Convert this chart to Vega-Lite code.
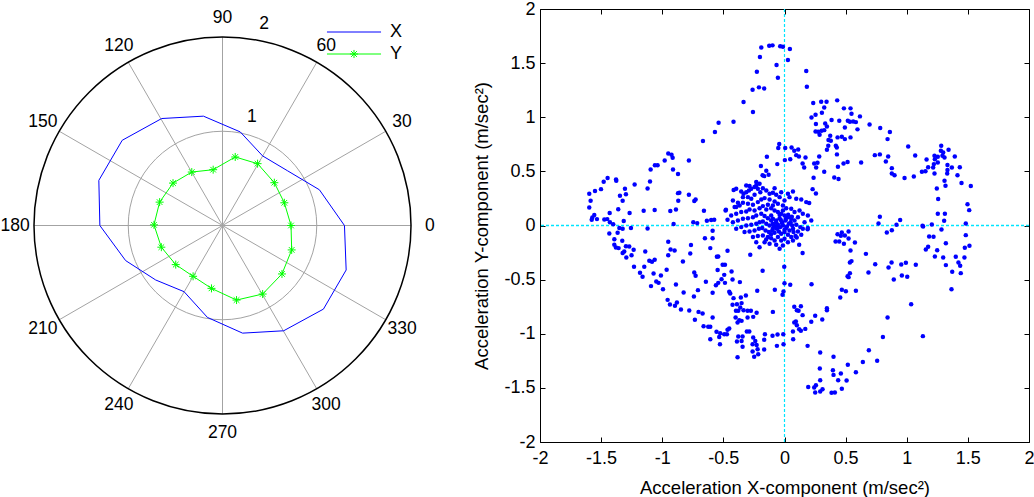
{
  "$schema": "https://vega.github.io/schema/vega-lite/v6.json",
  "padding": 0,
  "background": "white",
  "bounds": "flush",
  "spacing": 96,
  "config": {
    "view": {"stroke": null},
    "font": "Liberation Sans",
    "axis": {
      "grid": false,
      "domainColor": "#000000",
      "domainWidth": 1,
      "tickColor": "#000000",
      "tickSize": -5,
      "labelColor": "#000000",
      "titleColor": "#000000",
      "labelFont": "Liberation Sans",
      "titleFont": "Liberation Sans",
      "labelFontSize": 18,
      "titleFontSize": 18.5,
      "titleFontWeight": "normal",
      "labelFlush": false,
      "labelOverlap": false
    }
  },
  "datasets": {
    "spokes": [
      {"x": 2, "y": 0, "x2": -2, "y2": 0},
      {"x": 1.732, "y": 1, "x2": -1.732, "y2": -1},
      {"x": 1, "y": 1.732, "x2": -1, "y2": -1.732},
      {"x": 0, "y": 2, "x2": 0, "y2": -2},
      {"x": -1, "y": 1.732, "x2": 1, "y2": -1.732},
      {"x": -1.732, "y": 1, "x2": 1.732, "y2": -1}
    ],
    "rings": [
      {"r": 1, "ring": "grid"},
      {"r": 2, "ring": "frame"}
    ],
    "angles": [
      {"x": 2.2, "y": 0, "label": "0"},
      {"x": 1.905, "y": 1.1, "label": "30"},
      {"x": 1.1, "y": 1.905, "label": "60"},
      {"x": 0, "y": 2.2, "label": "90"},
      {"x": -1.1, "y": 1.905, "label": "120"},
      {"x": -1.905, "y": 1.1, "label": "150"},
      {"x": -2.2, "y": 0, "label": "180"},
      {"x": -1.905, "y": -1.1, "label": "210"},
      {"x": -1.1, "y": -1.905, "label": "240"},
      {"x": 0, "y": -2.2, "label": "270"},
      {"x": 1.1, "y": -1.905, "label": "300"},
      {"x": 1.905, "y": -1.1, "label": "330"}
    ],
    "rlabels": [
      {"x": 0.311, "y": 1.149, "label": "1"},
      {"x": 0.441, "y": 2.14, "label": "2"}
    ],
    "curves": [
      {"series": "X", "i": 0, "x": 1.294, "y": 0},
      {"series": "X", "i": 1, "x": 1.028, "y": 0.379},
      {"series": "X", "i": 2, "x": 0.691, "y": 0.58},
      {"series": "X", "i": 3, "x": 0.426, "y": 0.738},
      {"series": "X", "i": 4, "x": 0.188, "y": 0.993},
      {"series": "X", "i": 5, "x": -0.202, "y": 1.16},
      {"series": "X", "i": 6, "x": -0.645, "y": 1.135},
      {"series": "X", "i": 7, "x": -1.064, "y": 0.904},
      {"series": "X", "i": 8, "x": -1.312, "y": 0.479},
      {"series": "X", "i": 9, "x": -1.301, "y": 0},
      {"series": "X", "i": 10, "x": -1.028, "y": -0.372},
      {"series": "X", "i": 11, "x": -0.709, "y": -0.578},
      {"series": "X", "i": 12, "x": -0.408, "y": -0.702},
      {"series": "X", "i": 13, "x": -0.16, "y": -0.975},
      {"series": "X", "i": 14, "x": 0.213, "y": -1.142},
      {"series": "X", "i": 15, "x": 0.649, "y": -1.117},
      {"series": "X", "i": 16, "x": 1.071, "y": -0.887},
      {"series": "X", "i": 17, "x": 1.312, "y": -0.472},
      {"series": "X", "i": 18, "x": 1.294, "y": 0},
      {"series": "Y", "i": 0, "x": 0.727, "y": 0},
      {"series": "Y", "i": 1, "x": 0.656, "y": 0.241},
      {"series": "Y", "i": 2, "x": 0.55, "y": 0.454},
      {"series": "Y", "i": 3, "x": 0.372, "y": 0.656},
      {"series": "Y", "i": 4, "x": 0.135, "y": 0.727},
      {"series": "Y", "i": 5, "x": -0.099, "y": 0.592},
      {"series": "Y", "i": 6, "x": -0.326, "y": 0.567},
      {"series": "Y", "i": 7, "x": -0.525, "y": 0.45},
      {"series": "Y", "i": 8, "x": -0.667, "y": 0.248},
      {"series": "Y", "i": 9, "x": -0.727, "y": 0.007},
      {"series": "Y", "i": 10, "x": -0.649, "y": -0.23},
      {"series": "Y", "i": 11, "x": -0.496, "y": -0.415},
      {"series": "Y", "i": 12, "x": -0.312, "y": -0.539},
      {"series": "Y", "i": 13, "x": -0.117, "y": -0.667},
      {"series": "Y", "i": 14, "x": 0.149, "y": -0.791},
      {"series": "Y", "i": 15, "x": 0.426, "y": -0.727},
      {"series": "Y", "i": 16, "x": 0.631, "y": -0.514},
      {"series": "Y", "i": 17, "x": 0.734, "y": -0.259},
      {"series": "Y", "i": 18, "x": 0.727, "y": 0}
    ],
    "origin": [{"v": 0}],
    "accel": [
      {"x": -0.667, "y": 0.78}, {"x": -0.951, "y": 0.665}, {"x": -0.924, "y": 0.653}, {"x": -0.915, "y": 0.626},
      {"x": -0.98, "y": 0.601}, {"x": -0.782, "y": 0.601}, {"x": -1.06, "y": 0.557}, {"x": -1.038, "y": 0.557},
      {"x": -1.095, "y": 0.518}, {"x": -0.912, "y": 0.518}, {"x": -0.871, "y": 0.475}, {"x": -1.447, "y": 0.438},
      {"x": -1.479, "y": 0.404}, {"x": -1.378, "y": 0.425}, {"x": -1.376, "y": 0.413}, {"x": -1.1, "y": 0.407},
      {"x": -1.226, "y": 0.379}, {"x": -1.12, "y": 0.342}, {"x": -1.305, "y": 0.339}, {"x": -1.501, "y": 0.336},
      {"x": -1.55, "y": 0.318}, {"x": -1.597, "y": 0.293}, {"x": -0.871, "y": 0.299}, {"x": -0.86, "y": 0.302},
      {"x": -0.782, "y": 0.284}, {"x": -1.346, "y": 0.275}, {"x": -1.297, "y": 0.288}, {"x": -1.586, "y": 0.228},
      {"x": -1.324, "y": 0.228}, {"x": -0.727, "y": 0.241}, {"x": -0.738, "y": 0.226}, {"x": -0.869, "y": 0.228},
      {"x": -1.597, "y": 0.166}, {"x": -1.36, "y": 0.151}, {"x": -1.267, "y": 0.115}, {"x": -1.152, "y": 0.137},
      {"x": -1.062, "y": 0.143}, {"x": -0.934, "y": 0.133}, {"x": -0.888, "y": 0.148}, {"x": -1.43, "y": 0.115},
      {"x": -1.556, "y": 0.096}, {"x": -1.572, "y": 0.074}, {"x": -1.577, "y": 0.053}, {"x": -1.534, "y": 0.059},
      {"x": -1.474, "y": 0.056}, {"x": -1.45, "y": 0.059}, {"x": -1.428, "y": 0.031}, {"x": -1.401, "y": 0.012},
      {"x": -1.315, "y": 0.041}, {"x": -0.907, "y": 0.013}, {"x": -0.746, "y": 0.031}, {"x": -0.714, "y": 0.022},
      {"x": -0.19, "y": 1.645}, {"x": -0.125, "y": 1.661}, {"x": -0.098, "y": 1.664}, {"x": -0.035, "y": 1.655},
      {"x": -0.013, "y": 1.652}, {"x": 0.044, "y": 1.63}, {"x": -0.201, "y": 1.556}, {"x": 0.028, "y": 1.528},
      {"x": -0.065, "y": 1.482}, {"x": -0.226, "y": 1.421}, {"x": 0.178, "y": 1.427}, {"x": -0.054, "y": 1.365},
      {"x": -0.261, "y": 1.254}, {"x": -0.209, "y": 1.276}, {"x": -0.166, "y": 1.266}, {"x": 0.183, "y": 1.282},
      {"x": -0.335, "y": 1.14}, {"x": -0.258, "y": 1.048}, {"x": -0.539, "y": 0.949}, {"x": -0.417, "y": 0.958},
      {"x": -0.569, "y": 0.863}, {"x": 0.235, "y": 1.131}, {"x": 0.3, "y": 1.143}, {"x": 0.344, "y": 1.143},
      {"x": 0.325, "y": 1.091}, {"x": 0.431, "y": 1.156}, {"x": 0.306, "y": 1.042}, {"x": 0.254, "y": 1.023},
      {"x": 0.221, "y": 0.998}, {"x": 0.257, "y": 0.937}, {"x": 0.333, "y": 0.943}, {"x": 0.385, "y": 0.974},
      {"x": 0.448, "y": 0.968}, {"x": 0.347, "y": 0.915}, {"x": 0.325, "y": 0.881}, {"x": 0.303, "y": 0.875},
      {"x": 0.276, "y": 0.866}, {"x": 0.254, "y": 0.869}, {"x": 0.287, "y": 0.838}, {"x": 0.374, "y": 0.829},
      {"x": 0.36, "y": 0.789}, {"x": 0.379, "y": 0.783}, {"x": 0.358, "y": 0.737}, {"x": 0.347, "y": 0.7},
      {"x": 0.428, "y": 0.721}, {"x": 0.434, "y": 0.814}, {"x": -0.043, "y": 0.752}, {"x": -0.051, "y": 0.715},
      {"x": 0.006, "y": 0.715}, {"x": 0.058, "y": 0.721}, {"x": 0.08, "y": 0.69}, {"x": 0.112, "y": 0.703},
      {"x": 0.096, "y": 0.65}, {"x": 0.118, "y": 0.638}, {"x": 0.047, "y": 0.613}, {"x": 0.003, "y": 0.604},
      {"x": 0.172, "y": 0.629}, {"x": 0.284, "y": 0.638}, {"x": 0.27, "y": 0.58}, {"x": 0.243, "y": 0.573},
      {"x": 0.148, "y": 0.573}, {"x": 0.161, "y": 0.536}, {"x": -0.059, "y": 0.567}, {"x": -0.144, "y": 0.635},
      {"x": -0.193, "y": 0.549}, {"x": -0.149, "y": 0.506}, {"x": 0.259, "y": 0.536}, {"x": 0.325, "y": 0.496},
      {"x": -0.179, "y": 0.465}, {"x": -0.166, "y": 0.456}, {"x": -0.13, "y": 0.469}, {"x": 0.238, "y": 0.441},
      {"x": 0.437, "y": 0.542}, {"x": 0.407, "y": 0.444}, {"x": 0.442, "y": 0.429}, {"x": 0.23, "y": 0.336},
      {"x": 0.257, "y": 0.296}, {"x": 0.202, "y": 0.207},
      {"x": 0.486, "y": 1.082}, {"x": 0.54, "y": 1.082}, {"x": 0.548, "y": 1.032}, {"x": 0.617, "y": 1.008},
      {"x": 0.518, "y": 0.968}, {"x": 0.535, "y": 0.958}, {"x": 0.562, "y": 0.961}, {"x": 0.584, "y": 0.955},
      {"x": 0.494, "y": 0.906}, {"x": 0.597, "y": 0.888}, {"x": 0.696, "y": 0.934}, {"x": 0.783, "y": 0.9},
      {"x": 0.862, "y": 0.863}, {"x": 0.469, "y": 0.82}, {"x": 0.494, "y": 0.798}, {"x": 0.54, "y": 0.814},
      {"x": 0.843, "y": 0.798}, {"x": 0.42, "y": 0.737}, {"x": 1.012, "y": 0.73}, {"x": 0.429, "y": 0.657},
      {"x": 0.739, "y": 0.65}, {"x": 0.78, "y": 0.657}, {"x": 0.848, "y": 0.638}, {"x": 1.069, "y": 0.647},
      {"x": 0.829, "y": 0.592}, {"x": 0.627, "y": 0.583}, {"x": 0.516, "y": 0.586}, {"x": 0.483, "y": 0.573},
      {"x": 0.878, "y": 0.53}, {"x": 0.878, "y": 0.481}, {"x": 0.9, "y": 0.465}, {"x": 0.982, "y": 0.438},
      {"x": 1.058, "y": 0.453}, {"x": 1.162, "y": 0.61}, {"x": 1.175, "y": 0.539}, {"x": 1.124, "y": 0.496},
      {"x": 1.153, "y": 0.502}, {"x": 1.227, "y": 0.644}, {"x": 1.254, "y": 0.635}, {"x": 1.282, "y": 0.737},
      {"x": 1.279, "y": 0.69}, {"x": 1.298, "y": 0.675}, {"x": 1.292, "y": 0.644}, {"x": 1.309, "y": 0.629},
      {"x": 1.342, "y": 0.7}, {"x": 1.393, "y": 0.638}, {"x": 1.434, "y": 0.539}, {"x": 1.369, "y": 0.536},
      {"x": 1.333, "y": 0.558}, {"x": 1.333, "y": 0.512}, {"x": 1.331, "y": 0.481}, {"x": 1.415, "y": 0.465},
      {"x": 1.448, "y": 0.392}, {"x": 1.524, "y": 0.364}, {"x": 1.23, "y": 0.613}, {"x": 1.222, "y": 0.567},
      {"x": 1.216, "y": 0.536}, {"x": 1.227, "y": 0.481}, {"x": 1.254, "y": 0.583}, {"x": 1.309, "y": 0.413},
      {"x": 1.317, "y": 0.367}, {"x": 1.246, "y": 0.342}, {"x": 1.257, "y": 0.244}, {"x": 1.497, "y": 0.197},
      {"x": 1.511, "y": 0.142}, {"x": 1.254, "y": 0.108}, {"x": 1.312, "y": 0.108}, {"x": 1.306, "y": 0.043},
      {"x": 1.483, "y": 0.019}, {"x": 0.78, "y": 0.08}, {"x": 0.769, "y": 0.019}, {"x": 0.946, "y": 0.05},
      {"x": 0.916, "y": 0.006}, {"x": 1.129, "y": -0.003}, {"x": 1.205, "y": 0.009},
      {"x": -1.351, "y": -0.024}, {"x": -1.324, "y": -0.03}, {"x": -1.256, "y": -0.024}, {"x": -1.12, "y": -0.027},
      {"x": -1.433, "y": -0.074}, {"x": -1.365, "y": -0.067}, {"x": -1.392, "y": -0.126}, {"x": -1.327, "y": -0.141},
      {"x": -1.392, "y": -0.178}, {"x": -1.379, "y": -0.203}, {"x": -1.357, "y": -0.209}, {"x": -1.297, "y": -0.191},
      {"x": -1.27, "y": -0.194}, {"x": -1.234, "y": -0.225}, {"x": -1.311, "y": -0.24}, {"x": -1.324, "y": -0.255},
      {"x": -1.251, "y": -0.274}, {"x": -1.294, "y": -0.295}, {"x": -1.139, "y": -0.24}, {"x": -1.106, "y": -0.326},
      {"x": -1.084, "y": -0.335}, {"x": -1.062, "y": -0.317}, {"x": -1.231, "y": -0.382}, {"x": -1.147, "y": -0.382},
      {"x": -1.182, "y": -0.437}, {"x": -1.161, "y": -0.474}, {"x": -1.071, "y": -0.443}, {"x": -1.011, "y": -0.462},
      {"x": -0.964, "y": -0.409}, {"x": -1.049, "y": -0.517}, {"x": -1.03, "y": -0.53}, {"x": -1.092, "y": -0.56},
      {"x": -0.994, "y": -0.588}, {"x": -0.951, "y": -0.151}, {"x": -0.932, "y": -0.222}, {"x": -0.899, "y": -0.231},
      {"x": -0.951, "y": -0.274}, {"x": -0.765, "y": -0.181}, {"x": -0.771, "y": -0.258}, {"x": -0.831, "y": -0.332},
      {"x": -0.738, "y": -0.434}, {"x": -0.727, "y": -0.465}, {"x": -0.888, "y": -0.545}, {"x": -0.825, "y": -0.619},
      {"x": -0.708, "y": -0.597}, {"x": -0.741, "y": -0.656}, {"x": -0.956, "y": -0.687}, {"x": -0.937, "y": -0.73},
      {"x": -0.896, "y": -0.742}, {"x": -0.88, "y": -0.711}, {"x": -0.847, "y": -0.776}, {"x": -0.779, "y": -0.785},
      {"x": -0.703, "y": -0.798}, {"x": -0.67, "y": -0.813}, {"x": -0.733, "y": -0.871}, {"x": -0.662, "y": -0.93},
      {"x": -0.651, "y": -0.117}, {"x": -0.643, "y": -0.52},
      {"x": -0.588, "y": -0.049}, {"x": -0.588, "y": -0.117}, {"x": -0.607, "y": -0.209}, {"x": -0.553, "y": -0.289},
      {"x": -0.542, "y": -0.286}, {"x": -0.466, "y": -0.234}, {"x": -0.506, "y": -0.363}, {"x": -0.487, "y": -0.363},
      {"x": -0.547, "y": -0.412}, {"x": -0.493, "y": -0.456}, {"x": -0.433, "y": -0.425}, {"x": -0.515, "y": -0.496},
      {"x": -0.561, "y": -0.551}, {"x": -0.542, "y": -0.53}, {"x": -0.487, "y": -0.53}, {"x": -0.425, "y": -0.499},
      {"x": -0.365, "y": -0.523}, {"x": -0.588, "y": -0.622}, {"x": -0.452, "y": -0.613}, {"x": -0.444, "y": -0.628},
      {"x": -0.417, "y": -0.671}, {"x": -0.357, "y": -0.665}, {"x": -0.316, "y": -0.647}, {"x": -0.389, "y": -0.727},
      {"x": -0.351, "y": -0.717}, {"x": -0.425, "y": -0.733}, {"x": -0.362, "y": -0.757}, {"x": -0.397, "y": -0.788},
      {"x": -0.378, "y": -0.788}, {"x": -0.335, "y": -0.782}, {"x": -0.302, "y": -0.788}, {"x": -0.275, "y": -0.788},
      {"x": -0.228, "y": -0.807}, {"x": -0.588, "y": -0.85}, {"x": -0.4, "y": -0.85}, {"x": -0.37, "y": -0.875},
      {"x": -0.351, "y": -0.881}, {"x": -0.384, "y": -0.896}, {"x": -0.302, "y": -0.85}, {"x": -0.256, "y": -0.844},
      {"x": -0.624, "y": -0.936}, {"x": -0.607, "y": -0.936}, {"x": -0.452, "y": -0.952}, {"x": -0.466, "y": -0.964},
      {"x": -0.556, "y": -0.982}, {"x": -0.526, "y": -0.995}, {"x": -0.493, "y": -1.004}, {"x": -0.471, "y": -1.004},
      {"x": -0.308, "y": -0.979}, {"x": -0.288, "y": -0.979}, {"x": -0.16, "y": -1.004}, {"x": -0.534, "y": -1.029},
      {"x": -0.607, "y": -1.05}, {"x": -0.378, "y": -1.026}, {"x": -0.343, "y": -1.026}, {"x": -0.389, "y": -1.072},
      {"x": -0.351, "y": -1.066}, {"x": -0.256, "y": -1.035}, {"x": -0.239, "y": -1.066}, {"x": -0.166, "y": -1.056},
      {"x": -0.098, "y": -1.019}, {"x": -0.057, "y": -1.007}, {"x": -0.01, "y": -1.004}, {"x": -0.528, "y": -1.096},
      {"x": -0.343, "y": -1.121}, {"x": -0.261, "y": -1.096}, {"x": -0.228, "y": -1.103}, {"x": -0.22, "y": -1.143},
      {"x": -0.261, "y": -1.164}, {"x": -0.215, "y": -1.189}, {"x": -0.166, "y": -1.146}, {"x": -0.062, "y": -1.112},
      {"x": -0.008, "y": -1.096}, {"x": -0.384, "y": -1.217}, {"x": -0.248, "y": -1.213}, {"x": -0.28, "y": -0.271},
      {"x": -0.179, "y": -0.419}, {"x": -0.002, "y": -0.382}, {"x": 0.0, "y": -0.533}, {"x": 0.047, "y": -0.548},
      {"x": 0.221, "y": -0.542}, {"x": -0.223, "y": -0.603}, {"x": -0.079, "y": -0.594}, {"x": -0.008, "y": -0.61},
      {"x": -0.016, "y": -0.64}, {"x": -0.095, "y": -0.798}, {"x": 0.08, "y": -0.751}, {"x": 0.101, "y": -0.782},
      {"x": 0.134, "y": -0.745}, {"x": 0.115, "y": -0.788}, {"x": 0.148, "y": -0.828}, {"x": 0.251, "y": -0.834},
      {"x": 0.309, "y": -0.868}, {"x": 0.347, "y": -0.764}, {"x": 0.347, "y": -0.782}, {"x": 0.08, "y": -0.896},
      {"x": 0.093, "y": -0.887}, {"x": 0.101, "y": -0.921}, {"x": 0.12, "y": -0.958}, {"x": 0.134, "y": -0.973},
      {"x": 0.17, "y": -0.955}, {"x": 0.219, "y": -0.89}, {"x": 0.069, "y": -0.979}, {"x": 0.071, "y": -1.05},
      {"x": 0.189, "y": -1.112}, {"x": 0.292, "y": -1.173}, {"x": 0.401, "y": -1.213}, {"x": 0.289, "y": -1.321},
      {"x": 0.396, "y": -1.337}, {"x": 0.401, "y": -1.38}, {"x": 0.292, "y": -1.429}, {"x": 0.257, "y": -1.475},
      {"x": 0.243, "y": -1.497}, {"x": 0.194, "y": -1.491}, {"x": 0.251, "y": -1.543}, {"x": 0.292, "y": -1.534},
      {"x": 0.311, "y": -1.512}, {"x": 0.385, "y": -1.546}, {"x": 0.412, "y": -1.543}, {"x": 0.439, "y": -1.429},
      {"x": 0.456, "y": -0.665}, {"x": 0.434, "y": -0.08}, {"x": 0.461, "y": -0.095}, {"x": 0.418, "y": -0.147},
      {"x": 0.448, "y": -0.147},
      {"x": 1.134, "y": -0.009}, {"x": 1.284, "y": -0.037}, {"x": 0.837, "y": -0.064}, {"x": 0.878, "y": -0.043},
      {"x": 0.469, "y": -0.064}, {"x": 0.494, "y": -0.092}, {"x": 0.524, "y": -0.055}, {"x": 0.524, "y": -0.12},
      {"x": 0.486, "y": -0.169}, {"x": 0.576, "y": -0.157}, {"x": 0.54, "y": -0.231}, {"x": 0.666, "y": -0.262},
      {"x": 0.535, "y": -0.342}, {"x": 0.548, "y": -0.329}, {"x": 0.742, "y": -0.357}, {"x": 0.876, "y": -0.342},
      {"x": 0.955, "y": -0.36}, {"x": 0.993, "y": -0.345}, {"x": 1.074, "y": -0.363}, {"x": 0.851, "y": -0.388},
      {"x": 0.687, "y": -0.434}, {"x": 0.535, "y": -0.44}, {"x": 0.516, "y": -0.468}, {"x": 0.524, "y": -0.477},
      {"x": 0.894, "y": -0.499}, {"x": 0.96, "y": -0.462}, {"x": 1.004, "y": -0.474}, {"x": 0.469, "y": -0.594},
      {"x": 0.502, "y": -0.607}, {"x": 0.584, "y": -0.603}, {"x": 1.036, "y": -0.727}, {"x": 0.843, "y": -0.85},
      {"x": 0.805, "y": -1.029}, {"x": 1.132, "y": -1.022}, {"x": 0.69, "y": -1.152}, {"x": 0.758, "y": -1.25},
      {"x": 0.641, "y": -1.26}, {"x": 0.518, "y": -1.287}, {"x": 0.584, "y": -1.355}, {"x": 0.461, "y": -1.367},
      {"x": 0.508, "y": -1.432}, {"x": 0.469, "y": -1.509}, {"x": 1.183, "y": -0.101}, {"x": 1.219, "y": -0.104},
      {"x": 1.175, "y": -0.197}, {"x": 1.156, "y": -0.222}, {"x": 1.249, "y": -0.228}, {"x": 1.32, "y": -0.163},
      {"x": 1.23, "y": -0.286}, {"x": 1.298, "y": -0.295}, {"x": 1.32, "y": -0.366}, {"x": 1.401, "y": -0.289},
      {"x": 1.423, "y": -0.342}, {"x": 1.437, "y": -0.372}, {"x": 1.472, "y": -0.295}, {"x": 1.475, "y": -0.206},
      {"x": 1.513, "y": -0.188}, {"x": 1.483, "y": -0.089}, {"x": 1.372, "y": -0.428}, {"x": 1.442, "y": -0.44},
      {"x": 1.366, "y": -0.588},
      {"x": -0.395, "y": 0.339}, {"x": -0.354, "y": 0.315}, {"x": -0.335, "y": 0.293}, {"x": -0.313, "y": 0.308},
      {"x": -0.291, "y": 0.324}, {"x": -0.272, "y": 0.339}, {"x": -0.245, "y": 0.355}, {"x": -0.231, "y": 0.37},
      {"x": -0.218, "y": 0.339}, {"x": -0.198, "y": 0.308}, {"x": -0.177, "y": 0.345}, {"x": -0.149, "y": 0.324},
      {"x": -0.122, "y": 0.293}, {"x": -0.095, "y": 0.302}, {"x": -0.068, "y": 0.284}, {"x": -0.04, "y": 0.262},
      {"x": -0.34, "y": 0.262}, {"x": -0.299, "y": 0.262}, {"x": -0.272, "y": 0.247}, {"x": -0.245, "y": 0.284},
      {"x": -0.313, "y": 0.37}, {"x": -0.286, "y": 0.364}, {"x": -0.231, "y": 0.401}, {"x": -0.204, "y": 0.385},
      {"x": -0.081, "y": 0.345}, {"x": -0.027, "y": 0.308}, {"x": 0.028, "y": 0.293}, {"x": 0.069, "y": 0.315},
      {"x": 0.096, "y": 0.247}, {"x": 0.137, "y": 0.241}, {"x": 0.178, "y": 0.216}, {"x": 0.041, "y": 0.262},
      {"x": 0.0, "y": 0.231}, {"x": -0.422, "y": 0.231}, {"x": -0.381, "y": 0.21}, {"x": -0.408, "y": 0.17},
      {"x": -0.367, "y": 0.185}, {"x": -0.34, "y": 0.21}, {"x": -0.299, "y": 0.201}, {"x": -0.258, "y": 0.191},
      {"x": -0.218, "y": 0.216}, {"x": -0.19, "y": 0.241}, {"x": -0.163, "y": 0.253}, {"x": -0.122, "y": 0.241},
      {"x": -0.081, "y": 0.222}, {"x": -0.054, "y": 0.201}, {"x": -0.013, "y": 0.185}, {"x": 0.014, "y": 0.16},
      {"x": 0.055, "y": 0.154}, {"x": 0.082, "y": 0.124}, {"x": 0.123, "y": 0.139}, {"x": 0.15, "y": 0.108},
      {"x": 0.191, "y": 0.093}, {"x": 0.219, "y": 0.047}, {"x": -0.482, "y": 0.139}, {"x": -0.436, "y": 0.093},
      {"x": -0.395, "y": 0.108}, {"x": -0.354, "y": 0.124}, {"x": -0.313, "y": 0.13}, {"x": -0.286, "y": 0.148},
      {"x": -0.245, "y": 0.139}, {"x": -0.204, "y": 0.16}, {"x": -0.177, "y": 0.179}, {"x": -0.149, "y": 0.148},
      {"x": -0.109, "y": 0.16}, {"x": -0.081, "y": 0.139}, {"x": -0.054, "y": 0.124}, {"x": -0.027, "y": 0.108},
      {"x": 0.0, "y": 0.093}, {"x": 0.028, "y": 0.077}, {"x": 0.055, "y": 0.062}, {"x": 0.082, "y": 0.047},
      {"x": 0.11, "y": 0.077}, {"x": 0.164, "y": 0.031}, {"x": -0.422, "y": 0.031}, {"x": -0.381, "y": 0.047},
      {"x": -0.34, "y": 0.062}, {"x": -0.299, "y": 0.068}, {"x": -0.258, "y": 0.077}, {"x": -0.231, "y": 0.093},
      {"x": -0.19, "y": 0.108}, {"x": -0.163, "y": 0.087}, {"x": -0.136, "y": 0.068}, {"x": -0.109, "y": 0.093},
      {"x": -0.095, "y": 0.062}, {"x": -0.068, "y": 0.047}, {"x": -0.04, "y": 0.068}, {"x": -0.019, "y": 0.031},
      {"x": 0.009, "y": 0.047}, {"x": 0.036, "y": 0.016}, {"x": 0.063, "y": 0.0}, {"x": 0.096, "y": 0.006},
      {"x": 0.129, "y": -0.015}, {"x": 0.15, "y": -0.03}, {"x": 0.191, "y": -0.024}, {"x": -0.395, "y": -0.03},
      {"x": -0.354, "y": -0.015}, {"x": -0.313, "y": 0.0}, {"x": -0.272, "y": 0.006}, {"x": -0.231, "y": 0.016},
      {"x": -0.204, "y": 0.031}, {"x": -0.177, "y": 0.037}, {"x": -0.149, "y": 0.016}, {"x": -0.122, "y": 0.0},
      {"x": -0.095, "y": 0.016}, {"x": -0.073, "y": -0.006}, {"x": -0.054, "y": 0.006}, {"x": -0.035, "y": -0.015},
      {"x": -0.013, "y": 0.0}, {"x": 0.014, "y": -0.024}, {"x": 0.041, "y": -0.046}, {"x": 0.074, "y": -0.061},
      {"x": 0.11, "y": -0.055}, {"x": -0.327, "y": -0.061}, {"x": -0.286, "y": -0.055}, {"x": -0.245, "y": -0.046},
      {"x": -0.209, "y": -0.03}, {"x": -0.182, "y": -0.024}, {"x": -0.155, "y": -0.046}, {"x": -0.128, "y": -0.061},
      {"x": -0.1, "y": -0.046}, {"x": -0.081, "y": -0.067}, {"x": -0.062, "y": -0.03}, {"x": -0.046, "y": -0.055},
      {"x": -0.027, "y": -0.077}, {"x": 0.0, "y": -0.061}, {"x": 0.028, "y": -0.086}, {"x": 0.055, "y": -0.107},
      {"x": 0.09, "y": -0.098}, {"x": 0.137, "y": -0.086}, {"x": -0.258, "y": -0.107}, {"x": -0.218, "y": -0.098},
      {"x": -0.177, "y": -0.092}, {"x": -0.136, "y": -0.107}, {"x": -0.109, "y": -0.117}, {"x": -0.081, "y": -0.138},
      {"x": -0.054, "y": -0.107}, {"x": -0.027, "y": -0.138}, {"x": 0.0, "y": -0.123}, {"x": 0.028, "y": -0.154},
      {"x": 0.069, "y": -0.138}, {"x": -0.231, "y": -0.154}, {"x": -0.163, "y": -0.154}, {"x": -0.122, "y": -0.169},
      {"x": -0.068, "y": -0.178}, {"x": -0.013, "y": -0.184}, {"x": -0.204, "y": -0.2}, {"x": -0.04, "y": -0.215},
      {"x": -0.095, "y": -0.03}, {"x": -0.068, "y": 0.031}, {"x": -0.109, "y": 0.047}, {"x": -0.04, "y": 0.099},
      {"x": -0.013, "y": 0.139}, {"x": -0.095, "y": 0.185}, {"x": -0.136, "y": 0.191},
      {"x": -0.02, "y": 0.02}, {"x": 0.02, "y": -0.01}, {"x": -0.06, "y": -0.02}, {"x": 0.05, "y": 0.03},
      {"x": 0.0, "y": -0.04}, {"x": -0.03, "y": 0.05}, {"x": 0.07, "y": -0.03}, {"x": -0.09, "y": 0.0},
      {"x": 0.03, "y": 0.1}, {"x": -0.11, "y": -0.08}, {"x": 0.1, "y": -0.11}, {"x": 0.06, "y": 0.08},
      {"x": -0.15, "y": -0.13}, {"x": 0.01, "y": 0.06},
      {"x": 0.148, "y": -0.255}, {"x": 0.12, "y": -0.178}, {"x": 0.189, "y": -0.034}, {"x": -0.635, "y": 0.043},
      {"x": -0.575, "y": 0.053}, {"x": -0.479, "y": 0.145}, {"x": -0.466, "y": 0.053}, {"x": -0.659, "y": 0.136},
      {"x": -0.6, "y": 0.05}, {"x": -0.416, "y": 0.327}, {"x": -0.395, "y": 0.17}
    ]
  },
  "hconcat": [
    {
      "width": 443,
      "height": 433,
      "layer": [
        {
          "data": {"name": "spokes"},
          "mark": {"type": "rule", "color": "#a3a3a3", "strokeWidth": 1},
          "encoding": {
            "x": {"field": "x", "type": "quantitative", "scale": {"domain": [-2.35, 2.35], "nice": false, "zero": false}, "axis": null},
            "y": {"field": "y", "type": "quantitative", "scale": {"domain": [-2.297, 2.297], "nice": false, "zero": false}, "axis": null},
            "x2": {"field": "x2"},
            "y2": {"field": "y2"}
          }
        },
        {
          "data": {"name": "rings"},
          "transform": [{"filter": "datum.ring == 'grid'"}],
          "mark": {"type": "arc", "filled": false, "stroke": "#a3a3a3", "strokeWidth": 1, "theta": 0, "theta2": 6.2832},
          "encoding": {
            "radius": {"field": "r", "type": "quantitative", "scale": {"type": "linear", "domain": [0, 2.35], "range": [0, 221.5], "zero": true, "nice": false}}
          }
        },
        {
          "data": {"name": "rings"},
          "transform": [{"filter": "datum.ring == 'frame'"}],
          "mark": {"type": "arc", "filled": false, "stroke": "#000000", "strokeWidth": 1.5, "theta": 0, "theta2": 6.2832},
          "encoding": {
            "radius": {"field": "r", "type": "quantitative", "scale": {"type": "linear", "domain": [0, 2.35], "range": [0, 221.5], "zero": true, "nice": false}}
          }
        },
        {
          "data": {"name": "curves"},
          "mark": {"type": "line", "strokeWidth": 1},
          "encoding": {
            "x": {"field": "x", "type": "quantitative", "scale": {"domain": [-2.35, 2.35], "nice": false, "zero": false}, "axis": null},
            "y": {"field": "y", "type": "quantitative", "scale": {"domain": [-2.297, 2.297], "nice": false, "zero": false}, "axis": null},
            "order": {"field": "i", "type": "quantitative"},
            "color": {
              "field": "series",
              "type": "nominal",
              "scale": {"domain": ["X", "Y"], "range": ["#0000ff", "#00ff00"]},
              "legend": {
                "title": null,
                "orient": "none",
                "legendX": 344,
                "legendY": 14,
                "padding": 0,
                "labelFontSize": 18,
                "labelFont": "Liberation Sans",
                "labelColor": "#000000",
                "symbolSize": 117,
                "symbolStrokeWidth": 1,
                "labelOffset": 27,
                "rowPadding": 4,
                "encode": {
                  "symbols": {
                    "update": {
                      "shape": {"signal": "datum.value === 'Y' ? 'M-5,0H5M0,-0.75V0.75M-0.75,0H0.75M-0.53,-0.53L0.53,0.53M-0.53,0.53L0.53,-0.53' : 'M-5,0H5'"}
                    }
                  }
                }
              }
            }
          }
        },
        {
          "data": {"name": "curves"},
          "transform": [{"filter": "datum.series == 'Y' && datum.i < 18"}],
          "mark": {
            "type": "point",
            "shape": "M-1,0H1M0,-1V1M-0.7,-0.7L0.7,0.7M-0.7,0.7L0.7,-0.7",
            "filled": false,
            "stroke": "#00ff00",
            "strokeWidth": 1,
            "size": 64,
            "opacity": 1
          },
          "encoding": {
            "x": {"field": "x", "type": "quantitative", "scale": {"domain": [-2.35, 2.35], "nice": false, "zero": false}, "axis": null},
            "y": {"field": "y", "type": "quantitative", "scale": {"domain": [-2.297, 2.297], "nice": false, "zero": false}, "axis": null}
          }
        },
        {
          "data": {"name": "angles"},
          "mark": {"type": "text", "fontSize": 17.5, "font": "Liberation Sans", "align": "center", "baseline": "middle", "color": "#000000"},
          "encoding": {
            "x": {"field": "x", "type": "quantitative", "scale": {"domain": [-2.35, 2.35], "nice": false, "zero": false}, "axis": null},
            "y": {"field": "y", "type": "quantitative", "scale": {"domain": [-2.297, 2.297], "nice": false, "zero": false}, "axis": null},
            "text": {"field": "label"}
          }
        },
        {
          "data": {"name": "rlabels"},
          "mark": {"type": "text", "fontSize": 17.5, "font": "Liberation Sans", "align": "center", "baseline": "middle", "color": "#000000"},
          "encoding": {
            "x": {"field": "x", "type": "quantitative", "scale": {"domain": [-2.35, 2.35], "nice": false, "zero": false}, "axis": null},
            "y": {"field": "y", "type": "quantitative", "scale": {"domain": [-2.297, 2.297], "nice": false, "zero": false}, "axis": null},
            "text": {"field": "label"}
          }
        }
      ]
    },
    {
      "width": 489,
      "height": 433,
      "resolve": {"axis": {"x": "independent", "y": "independent"}},
      "layer": [
        {
          "data": {"name": "origin"},
          "mark": {"type": "rule", "color": "#00e5ff", "strokeDash": [3, 2], "strokeWidth": 1.2},
          "encoding": {
            "x": {"field": "v", "type": "quantitative", "scale": {"domain": [-2, 2], "nice": false, "zero": false}, "axis": null}
          }
        },
        {
          "data": {"name": "origin"},
          "mark": {"type": "rule", "color": "#00e5ff", "strokeDash": [3, 2], "strokeWidth": 1.6},
          "encoding": {
            "y": {"field": "v", "type": "quantitative", "scale": {"domain": [-2, 2], "nice": false, "zero": false}, "axis": null}
          }
        },
        {
          "data": {"name": "accel"},
          "mark": {"type": "point", "filled": true, "size": 20, "color": "#0000ff", "opacity": 1},
          "encoding": {
            "x": {
              "field": "x",
              "type": "quantitative",
              "scale": {"domain": [-2, 2], "nice": false, "zero": false},
              "axis": {
                "orient": "bottom",
                "values": [-2, -1.5, -1, -0.5, 0, 0.5, 1, 1.5, 2],
                "labelExpr": "'' + datum.value",
                "labelPadding": 12,
                "title": "Acceleration X-component (m/sec²)",
                "titlePadding": 11
              }
            },
            "y": {
              "field": "y",
              "type": "quantitative",
              "scale": {"domain": [-2, 2], "nice": false, "zero": false},
              "axis": {
                "orient": "left",
                "values": [-2, -1.5, -1, -0.5, 0, 0.5, 1, 1.5, 2],
                "labelExpr": "'' + datum.value",
                "labelPadding": 10,
                "title": "Acceleration Y-component (m/sec²)",
                "titlePadding": 12
              }
            }
          }
        },
        {
          "data": {"name": "origin"},
          "mark": {"type": "point", "opacity": 0},
          "encoding": {
            "x": {
              "field": "v",
              "type": "quantitative",
              "scale": {"domain": [-2, 2], "nice": false, "zero": false},
              "axis": {"orient": "top", "values": [-2, -1.5, -1, -0.5, 0, 0.5, 1, 1.5, 2], "labels": false, "title": null}
            },
            "y": {
              "field": "v",
              "type": "quantitative",
              "scale": {"domain": [-2, 2], "nice": false, "zero": false},
              "axis": {"orient": "right", "values": [-2, -1.5, -1, -0.5, 0, 0.5, 1, 1.5, 2], "labels": false, "title": null}
            }
          }
        }
      ]
    }
  ]
}
